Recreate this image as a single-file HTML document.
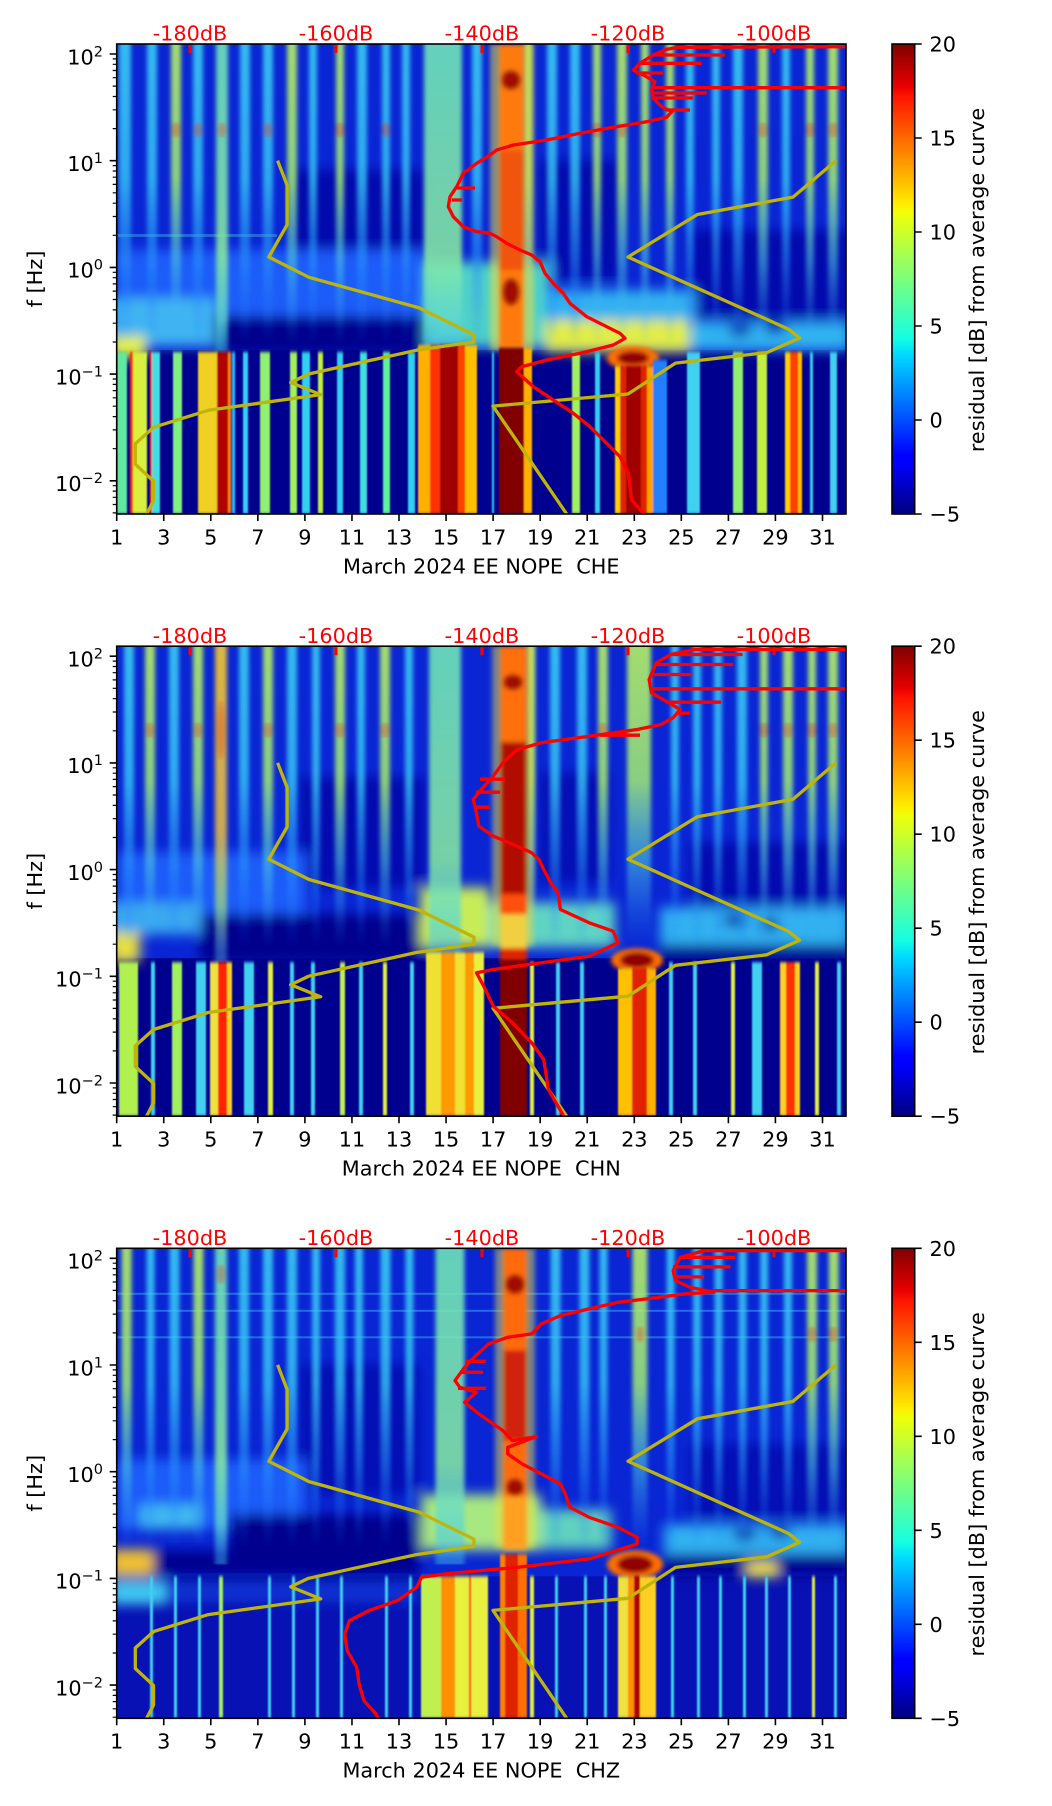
<!DOCTYPE html>
<html><head><meta charset="utf-8"><style>
html,body{margin:0;padding:0;background:#fff}
svg{display:block}
text{font-family:"DejaVu Sans","Liberation Sans",sans-serif;font-size:20.8px;fill:#000}
.r{fill:#f00}
</style></head><body>
<svg xmlns="http://www.w3.org/2000/svg" xmlns:xlink="http://www.w3.org/1999/xlink" width="1052" height="1806" viewBox="0 0 1052 1806">
<defs>
<clipPath id="cp"><rect x="116.7" y="44" width="729.3" height="470"/></clipPath>
<filter id="bs" x="-20%" y="-20%" width="140%" height="140%"><feGaussianBlur stdDeviation="6"/></filter>
<filter id="bm" x="-30%" y="-30%" width="160%" height="160%"><feGaussianBlur stdDeviation="2.5"/></filter>
<filter id="bh" x="-5%" y="-5%" width="110%" height="110%"><feGaussianBlur stdDeviation="2 0.6"/></filter>
<filter id="bl" x="-5%" y="-5%" width="110%" height="110%"><feGaussianBlur stdDeviation="0.9 1.5"/></filter>
<linearGradient id="jet" x1="0" y1="0" x2="0" y2="1">
<stop offset="0" stop-color="#800000"/><stop offset=".09" stop-color="#e80000"/><stop offset=".11" stop-color="#ff1300"/>
<stop offset=".34" stop-color="#ffec00"/><stop offset=".36" stop-color="#efff08"/><stop offset=".5" stop-color="#7bff7b"/>
<stop offset=".625" stop-color="#15ffe2"/><stop offset=".66" stop-color="#00dbff"/><stop offset=".875" stop-color="#0000ff"/>
<stop offset=".89" stop-color="#0000ff"/><stop offset="1" stop-color="#000080"/>
</linearGradient>
<linearGradient id="gc" gradientUnits="userSpaceOnUse" x1="0" y1="44" x2="0" y2="345">
<stop offset="0" stop-color="#3cd4f4" stop-opacity=".85"/><stop offset=".45" stop-color="#36c8f6" stop-opacity=".8"/>
<stop offset=".72" stop-color="#2a9cfa" stop-opacity=".5"/><stop offset="1" stop-color="#2070ff" stop-opacity="0"/>
</linearGradient>
<linearGradient id="gy" gradientUnits="userSpaceOnUse" x1="0" y1="44" x2="0" y2="345">
<stop offset="0" stop-color="#b4f064" stop-opacity=".9"/><stop offset=".45" stop-color="#a0ec74" stop-opacity=".85"/>
<stop offset=".72" stop-color="#50d0e0" stop-opacity=".55"/><stop offset="1" stop-color="#30a0ff" stop-opacity="0"/>
</linearGradient>
<linearGradient id="gY" gradientUnits="userSpaceOnUse" x1="0" y1="44" x2="0" y2="350">
<stop offset="0" stop-color="#70e8b8" stop-opacity=".88"/><stop offset=".7" stop-color="#88eca0" stop-opacity=".86"/>
<stop offset=".9" stop-color="#60d8d0" stop-opacity=".78"/><stop offset="1" stop-color="#40c0f0" stop-opacity=".45"/>
</linearGradient>
<linearGradient id="gO" gradientUnits="userSpaceOnUse" x1="0" y1="44" x2="0" y2="350">
<stop offset="0" stop-color="#f4c830" stop-opacity=".9"/><stop offset=".6" stop-color="#ecc040" stop-opacity=".85"/>
<stop offset=".85" stop-color="#a0e080" stop-opacity=".7"/><stop offset="1" stop-color="#60c0f0" stop-opacity=".4"/>
</linearGradient>
<g id="gold" fill="none" stroke="#bfb50a" stroke-width="3.3" stroke-linejoin="round">
<polyline points="277.6,160.6 287.1,185.2 287.1,224.8 268.8,257 309,277.3 419.2,307.9 474,334.9 474,341.9 416.3,350.3 308.6,374 290.7,382.5 320.7,394.6 208.3,410.3 153.5,427.3 135.3,443.7 135.3,464.2 153.5,481.2 153.5,500.7 135.3,535.7"/>
<polyline points="836,160.6 793,197.1 697.4,214.5 628,257 788.6,329.2 799.6,338 766.7,352.6 675.5,363.1 628,394 493,406.1 584,539.4"/>
</g>
<g id="tk">
<rect x="116.7" y="44" width="729.3" height="470" fill="none" stroke="#000" stroke-width="1.6"/>
<path d="M109.7 54h7M109.7 160.7h7M109.7 267.4h7M109.7 374.1h7M109.7 480.8h7" stroke="#000" stroke-width="1.6"/>
<path d="M112.7 128.6h4M112.7 109.8h4M112.7 96.5h4M112.7 86.1h4M112.7 77.7h4M112.7 70.5h4M112.7 64.3h4M112.7 58.9h4M112.7 235.3h4M112.7 216.5h4M112.7 203.2h4M112.7 192.8h4M112.7 184.4h4M112.7 177.2h4M112.7 171h4M112.7 165.6h4M112.7 342h4M112.7 323.2h4M112.7 309.9h4M112.7 299.5h4M112.7 291.1h4M112.7 283.9h4M112.7 277.7h4M112.7 272.3h4M112.7 448.7h4M112.7 429.9h4M112.7 416.6h4M112.7 406.2h4M112.7 397.8h4M112.7 390.6h4M112.7 384.4h4M112.7 379h4M112.7 512.9h4M112.7 504.5h4M112.7 497.3h4M112.7 491.1h4M112.7 485.7h4" stroke="#000" stroke-width="1.2"/>
<path d="M116.7 514v7M163.75 514v7M210.8 514v7M257.86 514v7M304.9 514v7M351.96 514v7M399 514v7M446.06 514v7M493.1 514v7M540.17 514v7M587.2 514v7M634.3 514v7M681.3 514v7M728.4 514v7M775.4 514v7M822.5 514v7" stroke="#000" stroke-width="1.6"/>
<path d="M190 45v8M336 45v8M482 45v8M628 45v8M774 45v8" stroke="#f00" stroke-width="3"/>
<rect x="892" y="44" width="22.7" height="470" fill="url(#jet)" stroke="#000" stroke-width="1.6"/>
<path d="M914.7 44h7M914.7 138h7M914.7 232h7M914.7 326h7M914.7 420h7M914.7 514h7" stroke="#000" stroke-width="1.6"/>
</g>
</defs>

<!-- ================= PANEL 1 ================= -->
<g>
<g clip-path="url(#cp)">
<rect x="116.7" y="44" width="729.3" height="310" fill="#0a26d4"/>
<rect x="116.7" y="350" width="729.3" height="164" fill="#00008e"/>
<g filter="url(#bs)">
<rect x="290" y="170" width="135" height="90" fill="#0006a0" opacity=".75"/>
<rect x="540" y="160" width="80" height="120" fill="#0006a0" opacity=".7"/>
<rect x="690" y="230" width="160" height="90" fill="#0008a0" opacity=".75"/>
<rect x="117" y="250" width="310" height="70" fill="#1c5cf8"/>
<rect x="110" y="298" width="105" height="48" fill="#40b4f2"/>
<rect x="215" y="316" width="210" height="38" fill="#00008c"/>
<rect x="425" y="262" width="125" height="85" fill="#50d0c8"/>
<rect x="545" y="290" width="150" height="32" fill="#30b0f0"/>
<rect x="545" y="320" width="145" height="32" fill="#e0ec48"/>
<rect x="690" y="322" width="160" height="28" fill="#30b4f0"/>
<ellipse cx="740" cy="330" rx="12" ry="6" fill="#0010a0"/>
<ellipse cx="775" cy="328" rx="10" ry="6" fill="#0010a0"/>
<rect x="110" y="336" width="36" height="22" fill="#e4f040"/>
</g>
<rect x="117" y="234" width="160" height="3" fill="#50c0e0" opacity=".4"/>
<g filter="url(#bh)">
<rect x="119" y="44" width="12" height="316" fill="url(#gc)"/>
<rect x="147" y="44" width="10" height="316" fill="url(#gc)"/>
<rect x="171" y="44" width="10" height="316" fill="url(#gy)"/>
<rect x="193" y="44" width="10" height="316" fill="url(#gc)"/>
<rect x="216" y="44" width="12" height="310" fill="url(#gY)"/>
<rect x="240" y="44" width="10" height="316" fill="url(#gc)"/>
<rect x="263" y="44" width="10" height="316" fill="url(#gc)"/>
<rect x="287" y="44" width="10" height="316" fill="url(#gy)"/>
<rect x="309" y="44" width="8" height="316" fill="url(#gc)"/>
<rect x="336" y="44" width="8" height="316" fill="url(#gy)"/>
<rect x="357" y="44" width="10" height="316" fill="url(#gc)"/>
<rect x="382" y="44" width="8" height="316" fill="url(#gc)"/>
<rect x="402" y="44" width="8" height="316" fill="url(#gc)"/>
<rect x="424" y="44" width="38" height="310" fill="url(#gY)"/>
<rect x="472" y="44" width="10" height="316" fill="url(#gc)"/>
<rect x="524" y="44" width="8" height="316" fill="url(#gy)"/>
<rect x="547" y="44" width="10" height="316" fill="url(#gc)"/>
<rect x="570" y="44" width="10" height="316" fill="url(#gc)"/>
<rect x="593" y="44" width="8" height="316" fill="url(#gy)"/>
<rect x="617" y="44" width="10" height="316" fill="url(#gy)"/>
<rect x="641" y="44" width="8" height="316" fill="url(#gy)"/>
<rect x="666" y="44" width="8" height="316" fill="url(#gy)"/>
<rect x="686" y="44" width="8" height="316" fill="url(#gc)"/>
<rect x="712" y="44" width="8" height="316" fill="url(#gc)"/>
<rect x="733" y="44" width="10" height="316" fill="url(#gc)"/>
<rect x="758" y="44" width="10" height="316" fill="url(#gy)"/>
<rect x="782" y="44" width="8" height="316" fill="url(#gc)"/>
<rect x="806" y="44" width="8" height="316" fill="url(#gy)"/>
<rect x="828" y="44" width="10" height="316" fill="url(#gy)"/>
<g fill="#e84020" opacity=".4">
<ellipse cx="176" cy="130" rx="4" ry="8"/><ellipse cx="198" cy="130" rx="4" ry="8"/><ellipse cx="222" cy="130" rx="4" ry="8"/><ellipse cx="268" cy="130" rx="4" ry="8"/><ellipse cx="340" cy="130" rx="4" ry="8"/><ellipse cx="386" cy="130" rx="4" ry="8"/><ellipse cx="597" cy="130" rx="4" ry="8"/><ellipse cx="622" cy="130" rx="4" ry="8"/><ellipse cx="763" cy="130" rx="4" ry="8"/><ellipse cx="810" cy="130" rx="4" ry="8"/><ellipse cx="833" cy="130" rx="4" ry="8"/>
</g>
</g>
<g filter="url(#bm)">
<rect x="490" y="44" width="44" height="306" fill="#e8e040" opacity=".55"/>
<rect x="499" y="44" width="25" height="306" fill="#ff7a10"/>
<rect x="499" y="150" width="25" height="120" fill="#e83a10" opacity=".6"/>
<ellipse cx="511" cy="80" rx="10" ry="10" fill="#a01000"/>
<ellipse cx="511" cy="292" rx="9" ry="14" fill="#a01000"/>
<ellipse cx="633" cy="358" rx="26" ry="12" fill="#ff7000"/>
<ellipse cx="633" cy="358" rx="16" ry="7" fill="#900000"/>
</g>
<g filter="url(#bl)">
<rect x="117" y="352" width="10" height="162" fill="#60e8a0"/>
<rect x="130" y="352" width="3" height="162" fill="#ff3000"/>
<rect x="133" y="352" width="14" height="162" fill="#d8f040"/>
<rect x="150" y="352" width="2" height="162" fill="#ff4000"/>
<rect x="152" y="352" width="8" height="162" fill="#40e0e0"/>
<rect x="173" y="352" width="9" height="162" fill="#80f080"/>
<rect x="198" y="352" width="19" height="162" fill="#f0d020"/>
<rect x="217" y="352" width="11" height="162" fill="#b00000"/>
<rect x="228" y="352" width="3" height="162" fill="#ff8000"/>
<rect x="232" y="352" width="3" height="162" fill="#20c0ff"/>
<rect x="243" y="352" width="5" height="162" fill="#30d0ff"/>
<rect x="260" y="352" width="10" height="162" fill="#90f070"/>
<rect x="290" y="352" width="7" height="162" fill="#a0f060"/>
<rect x="302" y="352" width="8" height="162" fill="#30d0f0"/>
<rect x="318" y="352" width="5" height="162" fill="#c0f040"/>
<rect x="337" y="352" width="6" height="162" fill="#30d0f0"/>
<rect x="360" y="352" width="7" height="162" fill="#40e0e0"/>
<rect x="383" y="352" width="7" height="162" fill="#60f0a0"/>
<rect x="408" y="352" width="7" height="162" fill="#30d0f0"/>
<rect x="418" y="345" width="12" height="169" fill="#ffb000"/>
<rect x="430" y="345" width="10" height="169" fill="#ff3000"/>
<rect x="440" y="345" width="18" height="169" fill="#a00000"/>
<rect x="458" y="345" width="7" height="169" fill="#ff4000"/>
<rect x="465" y="345" width="12" height="169" fill="#ffc000"/>
<rect x="492" y="352" width="2" height="162" fill="#30d0f0"/>
<rect x="499" y="348" width="25" height="166" fill="#800000"/>
<rect x="524" y="348" width="8" height="166" fill="#ffb000"/>
<rect x="572" y="352" width="8" height="162" fill="#a0f060"/>
<rect x="595" y="352" width="5" height="162" fill="#30d0f0"/>
<rect x="615" y="366" width="5" height="148" fill="#ffd000"/>
<rect x="620" y="366" width="27" height="148" fill="#e02000"/>
<rect x="626" y="366" width="15" height="148" fill="#a00000"/>
<rect x="647" y="366" width="6" height="148" fill="#ffa000"/>
<rect x="653" y="360" width="14" height="154" fill="#2080ff"/>
<rect x="687" y="352" width="13" height="162" fill="#40d0f0"/>
<rect x="733" y="352" width="10" height="162" fill="#90f070"/>
<rect x="757" y="352" width="10" height="162" fill="#c0f040"/>
<rect x="785" y="352" width="5" height="162" fill="#ffd000"/>
<rect x="790" y="352" width="8" height="162" fill="#ff4000"/>
<rect x="798" y="352" width="4" height="162" fill="#ffc000"/>
<rect x="810" y="352" width="3" height="162" fill="#30d0f0"/>
<rect x="830" y="352" width="7" height="162" fill="#40d0f0"/>
</g>
<use xlink:href="#gold"/>
<g fill="none" stroke="#f00" stroke-width="3.3" stroke-linejoin="round">
<polyline points="846,46.7 680,47.3 666.7,49.3 653.3,55 640,63.3 633.3,70 643.3,75 655,81.7 651.7,90 653.3,98.3 661.7,106.7 671.7,111.7 666.7,117.3 646.7,121.7 613.3,127.3 580,133.3 546.7,140 513.3,145 496.7,150 490,155 476.7,163.3 463.3,173.3 456.7,186.7 450,196.7 448.3,206.7 453.3,216.7 463.3,226.7 476.7,231.7 490,233.3 496.7,236.7 506.7,243.3 520,250 531.7,255 540,261.7 545,273.3 553.3,283.3 563.3,293.3 570,303.3 586.7,316.7 606.7,326.7 620,333.3 625,338.3 613.3,345 580,353.3 546.7,360 521.7,366.7 516.7,371.7 533.3,386.7 553.3,400 573.3,413.3 590,426.7 603.3,440 620,456.7 628.3,473 631.7,500 643.3,513.3 646,518"/>
<path d="M653,55H725M640,63.3H701.7M636,73H663M652,87.7H846M652,93H706.7M653,98H693M665,110H690M457,188H475M452,200H462"/>
</g>
</g>
<use xlink:href="#tk"/>
<g text-anchor="middle">
<text class="r" x="190" y="40.7">-180dB</text><text class="r" x="336" y="40.7">-160dB</text><text class="r" x="482" y="40.7">-140dB</text><text class="r" x="628" y="40.7">-120dB</text><text class="r" x="774" y="40.7">-100dB</text>
</g>
<g text-anchor="end">
<text x="103" y="64.3">10<tspan dy="-8" font-size="14.5">2</tspan></text>
<text x="103" y="171">10<tspan dy="-8" font-size="14.5">1</tspan></text>
<text x="103" y="277.7">10<tspan dy="-8" font-size="14.5">0</tspan></text>
<text x="103" y="384.4">10<tspan dy="-8" font-size="14.5">−1</tspan></text>
<text x="103" y="491.1">10<tspan dy="-8" font-size="14.5">−2</tspan></text>
</g>
<g text-anchor="middle">
<text x="116.7" y="544.3">1</text><text x="163.75" y="544.3">3</text><text x="210.8" y="544.3">5</text><text x="257.86" y="544.3">7</text><text x="304.9" y="544.3">9</text><text x="351.96" y="544.3">11</text><text x="399" y="544.3">13</text><text x="446.06" y="544.3">15</text><text x="493.1" y="544.3">17</text><text x="540.17" y="544.3">19</text><text x="587.2" y="544.3">21</text><text x="634.3" y="544.3">23</text><text x="681.3" y="544.3">25</text><text x="728.4" y="544.3">27</text><text x="775.4" y="544.3">29</text><text x="822.5" y="544.3">31</text>
<text x="481.3" y="573.3">March 2024 EE NOPE&#160; CHE</text>
<text transform="translate(42,279) rotate(-90)">f [Hz]</text>
<text transform="translate(984,280) rotate(-90)">residual [dB] from average curve</text>
</g>
<g>
<text x="929.5" y="51.5">20</text><text x="929.5" y="145.5">15</text><text x="929.5" y="239.5">10</text><text x="929.5" y="333.5">5</text><text x="929.5" y="427.5">0</text><text x="929.5" y="521.5">−5</text>
</g>
</g>

<!-- ================= PANEL 2 ================= -->
<g transform="translate(0,602.2)">
<g clip-path="url(#cp)">
<rect x="116.7" y="44" width="729.3" height="316" fill="#0a26d4"/>
<rect x="116.7" y="356" width="729.3" height="158" fill="#00008e"/>
<g filter="url(#bs)">
<rect x="300" y="175" width="125" height="110" fill="#0006a0" opacity=".7"/>
<rect x="540" y="170" width="70" height="110" fill="#0006a0" opacity=".6"/>
<rect x="690" y="240" width="160" height="70" fill="#0008a0" opacity=".7"/>
<rect x="117" y="250" width="190" height="67" fill="#1c5cf8"/>
<rect x="110" y="300" width="90" height="32" fill="#3aa8f0"/>
<rect x="200" y="312" width="230" height="48" fill="#00008c"/>
<rect x="420" y="285" width="70" height="60" fill="#c8ec58"/>
<rect x="490" y="300" width="125" height="45" fill="#60d4c4"/>
<rect x="660" y="305" width="190" height="38" fill="#30b0f0"/>
<rect x="660" y="343" width="190" height="17" fill="#000090"/>
<ellipse cx="735" cy="318" rx="12" ry="6" fill="#0010a0"/>
<ellipse cx="770" cy="322" rx="10" ry="6" fill="#0010a0"/>
<rect x="110" y="330" width="30" height="30" fill="#e8e040"/>
</g>
<g filter="url(#bh)">
<rect x="124" y="44" width="10" height="316" fill="url(#gc)"/>
<rect x="145" y="44" width="10" height="316" fill="url(#gy)"/>
<rect x="169" y="44" width="10" height="316" fill="url(#gc)"/>
<rect x="193" y="44" width="10" height="316" fill="url(#gy)"/>
<rect x="215" y="44" width="12" height="316" fill="url(#gO)"/>
<rect x="239" y="44" width="10" height="316" fill="url(#gc)"/>
<rect x="263" y="44" width="10" height="316" fill="url(#gy)"/>
<rect x="287" y="44" width="10" height="316" fill="url(#gc)"/>
<rect x="312" y="44" width="8" height="316" fill="url(#gc)"/>
<rect x="335" y="44" width="10" height="316" fill="url(#gy)"/>
<rect x="357" y="44" width="8" height="316" fill="url(#gc)"/>
<rect x="380" y="44" width="10" height="316" fill="url(#gy)"/>
<rect x="405" y="44" width="8" height="316" fill="url(#gc)"/>
<rect x="429" y="44" width="32" height="316" fill="url(#gY)"/>
<rect x="527" y="44" width="8" height="316" fill="url(#gy)"/>
<rect x="550" y="44" width="10" height="316" fill="url(#gc)"/>
<rect x="577" y="44" width="10" height="316" fill="url(#gc)"/>
<rect x="598" y="44" width="10" height="316" fill="url(#gy)"/>
<rect x="627" y="44" width="24" height="316" fill="url(#gy)"/>
<rect x="671" y="44" width="8" height="316" fill="url(#gc)"/>
<rect x="693" y="44" width="8" height="316" fill="url(#gc)"/>
<rect x="714" y="44" width="8" height="316" fill="url(#gc)"/>
<rect x="737" y="44" width="10" height="316" fill="url(#gc)"/>
<rect x="760" y="44" width="8" height="316" fill="url(#gy)"/>
<rect x="783" y="44" width="10" height="316" fill="url(#gy)"/>
<rect x="808" y="44" width="8" height="316" fill="url(#gy)"/>
<rect x="828" y="44" width="10" height="316" fill="url(#gy)"/>
<g fill="#e84020" opacity=".4">
<ellipse cx="150" cy="128" rx="4" ry="8"/><ellipse cx="198" cy="128" rx="4" ry="8"/><ellipse cx="221" cy="128" rx="4" ry="30"/><ellipse cx="268" cy="128" rx="4" ry="8"/><ellipse cx="340" cy="128" rx="4" ry="8"/><ellipse cx="385" cy="128" rx="4" ry="8"/><ellipse cx="603" cy="128" rx="4" ry="8"/><ellipse cx="764" cy="128" rx="4" ry="8"/><ellipse cx="788" cy="128" rx="4" ry="8"/><ellipse cx="812" cy="128" rx="4" ry="8"/><ellipse cx="833" cy="128" rx="4" ry="8"/>
</g>
</g>
<g filter="url(#bm)">
<rect x="492" y="44" width="42" height="300" fill="#e8e040" opacity=".5"/>
<rect x="500" y="44" width="27" height="100" fill="#ff7010"/>
<rect x="500" y="140" width="27" height="155" fill="#b00800"/>
<rect x="500" y="292" width="27" height="22" fill="#ff5010"/>
<rect x="500" y="312" width="27" height="36" fill="#f0d040"/>
<rect x="500" y="346" width="27" height="14" fill="#e02000"/>
<ellipse cx="513" cy="80" rx="10" ry="8" fill="#a01000"/>
<ellipse cx="637" cy="358" rx="26" ry="12" fill="#ff7000"/>
<ellipse cx="637" cy="358" rx="17" ry="8" fill="#900000"/>
</g>
<g filter="url(#bl)">
<rect x="119" y="360" width="19" height="154" fill="#b0f050"/>
<rect x="151" y="360" width="4" height="154" fill="#40d0f0"/>
<rect x="172" y="360" width="10" height="154" fill="#a0f060"/>
<rect x="196" y="360" width="10" height="154" fill="#40d0f0"/>
<rect x="210" y="360" width="8" height="154" fill="#f0e040"/>
<rect x="218" y="360" width="9" height="154" fill="#ff2000"/>
<rect x="227" y="360" width="5" height="154" fill="#ffd020"/>
<rect x="244" y="360" width="10" height="154" fill="#40d0f0"/>
<rect x="268" y="360" width="5" height="154" fill="#e0f040"/>
<rect x="290" y="360" width="4" height="154" fill="#40d0f0"/>
<rect x="311" y="360" width="4" height="154" fill="#40d0f0"/>
<rect x="340" y="360" width="5" height="154" fill="#c0f050"/>
<rect x="359" y="360" width="4" height="154" fill="#40d0f0"/>
<rect x="383" y="360" width="4" height="154" fill="#e0f040"/>
<rect x="410" y="360" width="4" height="154" fill="#40d0f0"/>
<rect x="426" y="350" width="15" height="164" fill="#f0e030"/>
<rect x="441" y="350" width="14" height="164" fill="#ff9a00"/>
<rect x="455" y="350" width="10" height="164" fill="#f0e030"/>
<rect x="465" y="350" width="9" height="164" fill="#ff9a00"/>
<rect x="474" y="350" width="10" height="164" fill="#e8f040"/>
<rect x="500" y="358" width="27" height="156" fill="#800000"/>
<rect x="530" y="360" width="4" height="154" fill="#e0f040"/>
<rect x="556" y="360" width="4" height="154" fill="#40d0f0"/>
<rect x="580" y="360" width="4" height="154" fill="#40d0f0"/>
<rect x="618" y="366" width="14" height="148" fill="#ffc000"/>
<rect x="632" y="366" width="15" height="148" fill="#e02000"/>
<rect x="647" y="366" width="9" height="148" fill="#ffb000"/>
<rect x="669" y="360" width="4" height="154" fill="#40d0f0"/>
<rect x="693" y="360" width="4" height="154" fill="#40d0f0"/>
<rect x="731" y="360" width="4" height="154" fill="#e0f040"/>
<rect x="752" y="360" width="10" height="154" fill="#40d0f0"/>
<rect x="780" y="360" width="6" height="154" fill="#ffd020"/>
<rect x="786" y="360" width="9" height="154" fill="#ff3000"/>
<rect x="795" y="360" width="5" height="154" fill="#ffd020"/>
<rect x="815" y="360" width="4" height="154" fill="#e0f040"/>
<rect x="837" y="360" width="4" height="154" fill="#40d0f0"/>
</g>
<use xlink:href="#gold"/>
<g fill="none" stroke="#f00" stroke-width="3.3" stroke-linejoin="round">
<polyline points="846,47.3 694.7,47.3 670.7,52.3 656.3,60.6 649.1,77.3 651.5,90.6 665.9,99 680.3,107.3 673.1,115.6 661.1,122.3 637.1,127.3 589.2,134 541.3,140.6 517.3,147.3 502.9,160.6 493.3,174 481.3,187.3 473.2,197.3 476.5,210.6 478.9,224 493.3,234 517.3,244 531.7,250.6 538.9,257.3 543.7,267.3 550.8,280.6 558,290.6 560.4,307.3 589.2,320.6 613.2,329 618,340.6 589.2,354 541.3,360.6 493.3,367.3 476.5,370.6 483.7,384 493.3,404 512.5,420.6 531.7,440.6 543.7,457.3 548.4,487.3 562.8,512.3 565,518"/>
<path d="M670.7,52.3H742.6M656,62.3H733M650,72.3H692.3M650,86.6H846M666,100H721M676,111H689.9M480,177H505M476,190H500M474,205H490M600,133H640"/>
</g>
</g>
<use xlink:href="#tk"/>
<g text-anchor="middle">
<text class="r" x="190" y="40.7">-180dB</text><text class="r" x="336" y="40.7">-160dB</text><text class="r" x="482" y="40.7">-140dB</text><text class="r" x="628" y="40.7">-120dB</text><text class="r" x="774" y="40.7">-100dB</text>
</g>
<g text-anchor="end">
<text x="103" y="64.3">10<tspan dy="-8" font-size="14.5">2</tspan></text>
<text x="103" y="171">10<tspan dy="-8" font-size="14.5">1</tspan></text>
<text x="103" y="277.7">10<tspan dy="-8" font-size="14.5">0</tspan></text>
<text x="103" y="384.4">10<tspan dy="-8" font-size="14.5">−1</tspan></text>
<text x="103" y="491.1">10<tspan dy="-8" font-size="14.5">−2</tspan></text>
</g>
<g text-anchor="middle">
<text x="116.7" y="544.3">1</text><text x="163.75" y="544.3">3</text><text x="210.8" y="544.3">5</text><text x="257.86" y="544.3">7</text><text x="304.9" y="544.3">9</text><text x="351.96" y="544.3">11</text><text x="399" y="544.3">13</text><text x="446.06" y="544.3">15</text><text x="493.1" y="544.3">17</text><text x="540.17" y="544.3">19</text><text x="587.2" y="544.3">21</text><text x="634.3" y="544.3">23</text><text x="681.3" y="544.3">25</text><text x="728.4" y="544.3">27</text><text x="775.4" y="544.3">29</text><text x="822.5" y="544.3">31</text>
<text x="481.3" y="573.3">March 2024 EE NOPE&#160; CHN</text>
<text transform="translate(42,279) rotate(-90)">f [Hz]</text>
<text transform="translate(984,280) rotate(-90)">residual [dB] from average curve</text>
</g>
<g>
<text x="929.5" y="51.5">20</text><text x="929.5" y="145.5">15</text><text x="929.5" y="239.5">10</text><text x="929.5" y="333.5">5</text><text x="929.5" y="427.5">0</text><text x="929.5" y="521.5">−5</text>
</g>
</g>

<!-- ================= PANEL 3 ================= -->
<g transform="translate(0,1204.3)">
<g clip-path="url(#cp)">
<rect x="116.7" y="44" width="729.3" height="330" fill="#0a26d4"/>
<rect x="116.7" y="372" width="729.3" height="142" fill="#0812b4"/>
<g filter="url(#bs)">
<rect x="300" y="160" width="120" height="130" fill="#0006a0" opacity=".6"/>
<rect x="690" y="240" width="160" height="75" fill="#0008a0" opacity=".6"/>
<rect x="117" y="255" width="190" height="70" fill="#1c5cf8"/>
<rect x="140" y="300" width="60" height="25" fill="#40b8f0"/>
<rect x="230" y="310" width="190" height="62" fill="#00008c"/>
<rect x="421" y="290" width="120" height="56" fill="#a8e880"/>
<rect x="541" y="305" width="70" height="40" fill="#60d0c0"/>
<rect x="664" y="320" width="186" height="30" fill="#30b0f0"/>
<ellipse cx="745" cy="330" rx="12" ry="6" fill="#0010a0"/>
<ellipse cx="780" cy="328" rx="10" ry="6" fill="#0010a0"/>
<rect x="150" y="346" width="270" height="26" fill="#000090"/>
<rect x="664" y="350" width="186" height="22" fill="#000090"/>
<rect x="110" y="345" width="43" height="27" fill="#f0c030"/>
<rect x="747" y="358" width="30" height="15" fill="#f0e040"/>
<rect x="110" y="376" width="57" height="24" fill="#40c8f0"/>
<rect x="167" y="378" width="250" height="20" fill="#1040e0" opacity=".7"/>
</g>
<g fill="#40c0f0" opacity=".45">
<rect x="117" y="88.5" width="729" height="2"/><rect x="117" y="105.5" width="729" height="2"/><rect x="117" y="132" width="729" height="2"/>
</g>
<g filter="url(#bh)">
<rect x="121.6" y="44" width="10" height="316" fill="url(#gy)"/>
<rect x="146.6" y="44" width="8" height="316" fill="url(#gc)"/>
<rect x="169.5" y="44" width="10" height="316" fill="url(#gc)"/>
<rect x="193.5" y="44" width="10" height="316" fill="url(#gy)"/>
<rect x="215" y="44" width="12" height="316" fill="url(#gY)"/>
<rect x="239" y="44" width="10" height="316" fill="url(#gc)"/>
<rect x="263" y="44" width="10" height="316" fill="url(#gc)"/>
<rect x="287" y="44" width="10" height="316" fill="url(#gc)"/>
<rect x="312" y="44" width="8" height="316" fill="url(#gc)"/>
<rect x="335" y="44" width="10" height="316" fill="url(#gc)"/>
<rect x="355" y="44" width="8" height="316" fill="url(#gc)"/>
<rect x="380.5" y="44" width="10" height="316" fill="url(#gc)"/>
<rect x="405.5" y="44" width="8" height="316" fill="url(#gc)"/>
<rect x="435.5" y="44" width="29" height="316" fill="url(#gY)"/>
<rect x="550.6" y="44" width="10" height="316" fill="url(#gc)"/>
<rect x="579.4" y="44" width="10" height="316" fill="url(#gc)"/>
<rect x="599.6" y="44" width="8" height="316" fill="url(#gc)"/>
<rect x="632.5" y="44" width="15" height="316" fill="url(#gy)"/>
<rect x="666.7" y="44" width="8" height="316" fill="url(#gc)"/>
<rect x="693" y="44" width="8" height="316" fill="url(#gc)"/>
<rect x="714.6" y="44" width="8" height="316" fill="url(#gc)"/>
<rect x="738.6" y="44" width="8" height="316" fill="url(#gc)"/>
<rect x="760.2" y="44" width="8" height="316" fill="url(#gc)"/>
<rect x="784" y="44" width="8" height="316" fill="url(#gc)"/>
<rect x="807" y="44" width="10" height="316" fill="url(#gy)"/>
<rect x="828.7" y="44" width="10" height="316" fill="url(#gy)"/>
<g fill="#e84020" opacity=".4">
<ellipse cx="221" cy="70" rx="4" ry="10"/><ellipse cx="812" cy="130" rx="4" ry="8"/><ellipse cx="833" cy="130" rx="4" ry="8"/><ellipse cx="640" cy="130" rx="4" ry="8"/>
</g>
</g>
<g filter="url(#bm)">
<rect x="495" y="44" width="40" height="300" fill="#e8e040" opacity=".5"/>
<rect x="503" y="44" width="24" height="300" fill="#ff6a10"/>
<rect x="503" y="146" width="24" height="90" fill="#d02008"/>
<ellipse cx="515" cy="80" rx="10" ry="10" fill="#a01000"/>
<ellipse cx="515" cy="283" rx="9" ry="9" fill="#a01000"/>
<rect x="503" y="292" width="24" height="54" fill="#ffa020"/>
<ellipse cx="635" cy="360" rx="28" ry="14" fill="#ff7000"/>
<ellipse cx="635" cy="360" rx="18" ry="9" fill="#900000"/>
</g>
<g filter="url(#bl)">
<rect x="150" y="372" width="3" height="142" fill="#40d0f0"/>
<rect x="174" y="372" width="3" height="142" fill="#40d0f0"/>
<rect x="198" y="372" width="3" height="142" fill="#40d0f0"/>
<rect x="219" y="372" width="4" height="142" fill="#a0f060"/>
<rect x="268" y="372" width="3" height="142" fill="#40d0f0"/>
<rect x="292" y="372" width="3" height="142" fill="#40d0f0"/>
<rect x="316" y="372" width="3" height="142" fill="#40d0f0"/>
<rect x="340" y="372" width="3" height="142" fill="#40d0f0"/>
<rect x="385" y="372" width="3" height="142" fill="#40d0f0"/>
<rect x="409" y="372" width="3" height="142" fill="#40d0f0"/>
<rect x="421" y="372" width="20" height="142" fill="#c0f050"/>
<rect x="441" y="372" width="14" height="142" fill="#ff9000"/>
<rect x="455" y="372" width="33" height="142" fill="#e8f040"/>
<rect x="469" y="372" width="2" height="142" fill="#ff2000"/>
<rect x="500" y="350" width="5" height="164" fill="#ff8000"/>
<rect x="505" y="350" width="13" height="164" fill="#e02000"/>
<rect x="518" y="350" width="9" height="164" fill="#ff7000"/>
<rect x="530" y="372" width="4" height="142" fill="#e0f040"/>
<rect x="555" y="372" width="3" height="142" fill="#40d0f0"/>
<rect x="584" y="372" width="3" height="142" fill="#40d0f0"/>
<rect x="604" y="372" width="3" height="142" fill="#40d0f0"/>
<rect x="618" y="372" width="10" height="142" fill="#f0e040"/>
<rect x="628" y="372" width="6" height="142" fill="#ff9000"/>
<rect x="634" y="372" width="6" height="142" fill="#b00000"/>
<rect x="640" y="372" width="16" height="142" fill="#ffd020"/>
<rect x="671" y="372" width="3" height="142" fill="#40d0f0"/>
<rect x="697" y="372" width="3" height="142" fill="#40d0f0"/>
<rect x="719" y="372" width="3" height="142" fill="#40d0f0"/>
<rect x="743" y="372" width="3" height="142" fill="#40d0f0"/>
<rect x="765" y="372" width="3" height="142" fill="#40d0f0"/>
<rect x="788" y="372" width="3" height="142" fill="#40d0f0"/>
<rect x="812" y="372" width="3" height="142" fill="#e0f040"/>
<rect x="834" y="372" width="3" height="142" fill="#40d0f0"/>
</g>
<use xlink:href="#gold"/>
<g fill="none" stroke="#f00" stroke-width="3.3" stroke-linejoin="round">
<polyline points="846,46.3 704.3,46.3 680.3,53 673.1,66.3 675.5,76.3 689.9,83 713.9,87.9 685.1,89.6 646.7,94.6 618,98 589.2,104.6 560.4,111.3 541.3,119.6 531.7,129.6 507.7,133 488.5,139.6 474.1,153 464.6,163 455,176.3 459.8,183 476.5,188 464.6,198 478.9,209.6 502.9,226.3 512.5,236.3 536.5,232.3 507.7,243 507.7,249.6 522.1,259.6 541.3,269.6 560.4,279.6 565.2,289.6 570,303 589.2,313 618,323 637.1,333 637.1,339.6 589.2,354.6 517.3,363 445.4,369.6 421.4,373 416.6,383 397.4,396.3 368.7,406.3 349.5,416.3 344.7,429.6 347.1,446.3 356.7,463 359.1,479.6 363.9,496.3 375.9,509.6 380,518"/>
<path d="M680,53H735.4M673,62.6H730.6M674,72.6H704.3M714,86.3H846M466,157H486M460,168H483M458,184H486"/>
</g>
</g>
<use xlink:href="#tk"/>
<g text-anchor="middle">
<text class="r" x="190" y="40.7">-180dB</text><text class="r" x="336" y="40.7">-160dB</text><text class="r" x="482" y="40.7">-140dB</text><text class="r" x="628" y="40.7">-120dB</text><text class="r" x="774" y="40.7">-100dB</text>
</g>
<g text-anchor="end">
<text x="103" y="64.3">10<tspan dy="-8" font-size="14.5">2</tspan></text>
<text x="103" y="171">10<tspan dy="-8" font-size="14.5">1</tspan></text>
<text x="103" y="277.7">10<tspan dy="-8" font-size="14.5">0</tspan></text>
<text x="103" y="384.4">10<tspan dy="-8" font-size="14.5">−1</tspan></text>
<text x="103" y="491.1">10<tspan dy="-8" font-size="14.5">−2</tspan></text>
</g>
<g text-anchor="middle">
<text x="116.7" y="544.3">1</text><text x="163.75" y="544.3">3</text><text x="210.8" y="544.3">5</text><text x="257.86" y="544.3">7</text><text x="304.9" y="544.3">9</text><text x="351.96" y="544.3">11</text><text x="399" y="544.3">13</text><text x="446.06" y="544.3">15</text><text x="493.1" y="544.3">17</text><text x="540.17" y="544.3">19</text><text x="587.2" y="544.3">21</text><text x="634.3" y="544.3">23</text><text x="681.3" y="544.3">25</text><text x="728.4" y="544.3">27</text><text x="775.4" y="544.3">29</text><text x="822.5" y="544.3">31</text>
<text x="481.3" y="573.3">March 2024 EE NOPE&#160; CHZ</text>
<text transform="translate(42,279) rotate(-90)">f [Hz]</text>
<text transform="translate(984,280) rotate(-90)">residual [dB] from average curve</text>
</g>
<g>
<text x="929.5" y="51.5">20</text><text x="929.5" y="145.5">15</text><text x="929.5" y="239.5">10</text><text x="929.5" y="333.5">5</text><text x="929.5" y="427.5">0</text><text x="929.5" y="521.5">−5</text>
</g>
</g>
</svg>
</body></html>
